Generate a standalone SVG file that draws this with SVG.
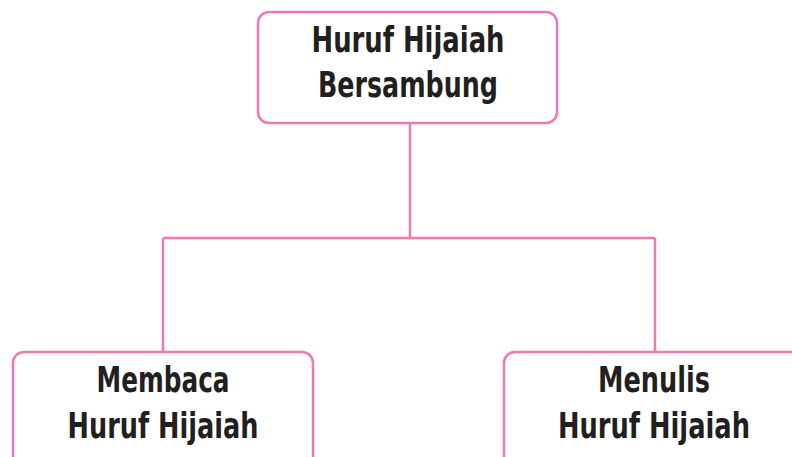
<svg xmlns="http://www.w3.org/2000/svg" width="792" height="457" viewBox="0 0 792 457">
<style>
.box{fill:#fff;stroke:#ef78b1;stroke-width:2.5}
.ln{fill:none;stroke:#ef78b1;stroke-width:2.5}
text{font-family:"DejaVu Sans Condensed","DejaVu Sans",sans-serif;font-weight:bold;font-size:35px;fill:#231f20;text-anchor:middle}
</style>
<rect width="792" height="457" fill="#fff"/>
<g id="connectors">
<path class="ln" d="M410,123 V238 M163,238 H655 M163,238 V352 M655,238 V352"/>
</g>
<g id="top">
<rect class="box" x="258" y="12" width="299" height="111" rx="11"/>
<text x="408" y="52" textLength="193" lengthAdjust="spacingAndGlyphs">Huruf Hijaiah</text>
<text x="408" y="97" textLength="180" lengthAdjust="spacingAndGlyphs">Bersambung</text>
</g>
<g id="left">
<rect class="box" x="13" y="352" width="300" height="120" rx="11"/>
<text x="163" y="392" textLength="133" lengthAdjust="spacingAndGlyphs">Membaca</text>
<text x="163" y="438" textLength="191" lengthAdjust="spacingAndGlyphs">Huruf Hijaiah</text>
</g>
<g id="right">
<rect class="box" x="504" y="352" width="310" height="120" rx="11"/>
<text x="654" y="392" textLength="112" lengthAdjust="spacingAndGlyphs">Menulis</text>
<text x="654" y="438" textLength="192" lengthAdjust="spacingAndGlyphs">Huruf Hijaiah</text>
</g>
</svg>
